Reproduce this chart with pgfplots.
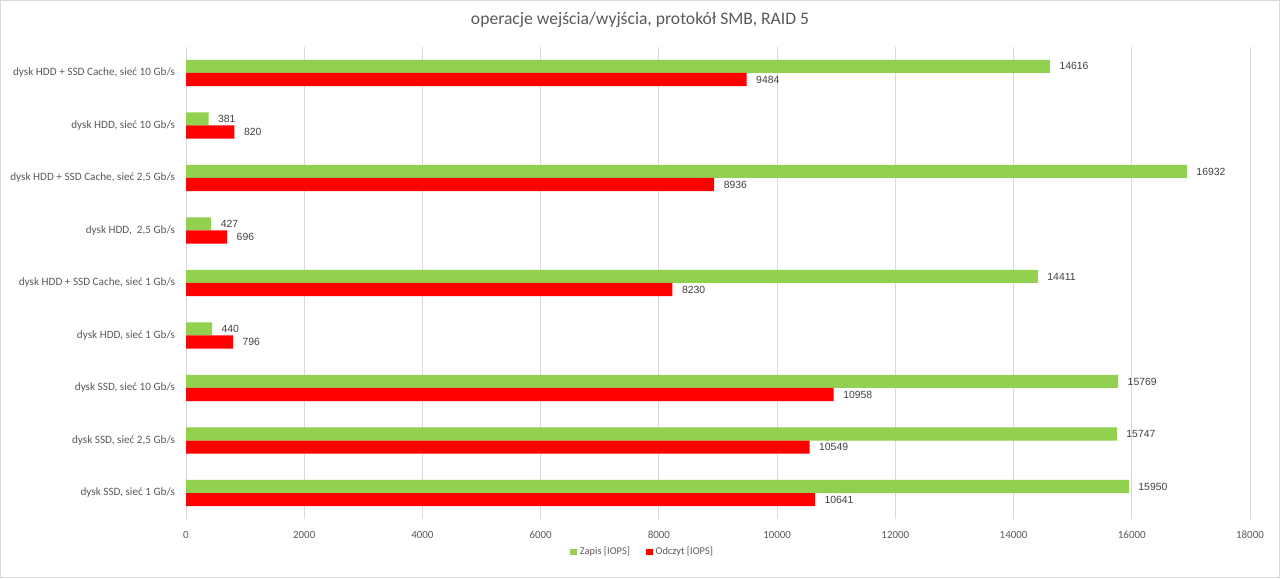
\documentclass[border=0pt]{standalone}
\usepackage{fontspec}
\setmainfont{Carlito}
\newfontfamily\arialfont{Liberation Sans}
\usepackage{pgfplots}
\pgfplotsset{compat=1.18}
\definecolor{zapis}{HTML}{92D050}
\definecolor{odczyt}{HTML}{FF0000}
\definecolor{gridc}{HTML}{D9D9D9}
\definecolor{txt}{HTML}{595959}
\definecolor{vtxt}{HTML}{404040}
\begin{document}
\begin{tikzpicture}
\draw[gridc, line width=0.75pt] (0.375pt,0.375pt) rectangle (959.625pt,433.125pt);
\begin{axis}[
  at={(139.5pt,44.06pt)}, anchor=south west,
  scale only axis,
  width=798pt, height=354.4pt,
  xmin=0, xmax=18000,
  ymin=-0.5, ymax=8.5,
  xtick={0,2000,...,18000},
  ytick={0,...,8},
  scaled x ticks=false,
  /pgf/number format/1000 sep={},
  /pgf/number format/assume math mode=true,
  xmajorgrids,
  grid style={gridc, line width=0.75pt},
  axis line style={draw=none},
  major tick length=0pt,
  tick style={draw=none},
  xticklabel style={font=\fontsize{8.2}{10}\selectfont, color=txt, inner sep=0pt, anchor=north, yshift=-9pt},
  yticklabel style={font=\fontsize{8.4}{10}\selectfont, color=txt, inner sep=0pt, anchor=east, xshift=-8pt},
  yticklabels={
    {dysk SSD, sieć 1 Gb/s},
    {dysk SSD, sieć 2,5 Gb/s},
    {dysk SSD, sieć 10 Gb/s},
    {dysk HDD, sieć 1 Gb/s},
    {dysk HDD + SSD Cache, sieć 1 Gb/s},
    {dysk HDD,\ \ 2,5 Gb/s},
    {dysk HDD + SSD Cache, sieć 2,5 Gb/s},
    {dysk HDD, sieć 10 Gb/s},
    {dysk HDD + SSD Cache, sieć 10 Gb/s}},
  title={operacje wejścia/wyjścia, protokół SMB, RAID 5},
  title style={font=\fontsize{13.2}{16}\selectfont, color=txt, at={(0.4267,1)}, anchor=center, yshift=14pt},
  xbar, bar width=0.25,
  nodes near coords,
  nodes near coords style={font=\arialfont\fontsize{7.8}{9}\selectfont, color=vtxt, anchor=west, inner sep=0pt, xshift=7pt},
  legend style={at={(0.4295,-0.0693)}, anchor=center, legend columns=2, draw=none, fill=none,
    font=\fontsize{7.8}{9}\selectfont, text=txt,
    /tikz/every even column/.append style={column sep=10pt}},
  legend image code/.code={\fill[#1] (0pt,-2.6pt) rectangle (5.2pt,2.6pt);},
]
\addplot[fill=zapis, draw=none, bar shift=0.125] coordinates {
  (15950,0) (15747,1) (15769,2) (440,3) (14411,4) (427,5) (16932,6) (381,7) (14616,8)};
\addlegendentry{Zapis [IOPS]}
\addplot[fill=odczyt, draw=none, bar shift=-0.125] coordinates {
  (10641,0) (10549,1) (10958,2) (796,3) (8230,4) (696,5) (8936,6) (820,7) (9484,8)};
\addlegendentry{Odczyt [IOPS]}
\end{axis}
\end{tikzpicture}
\end{document}
